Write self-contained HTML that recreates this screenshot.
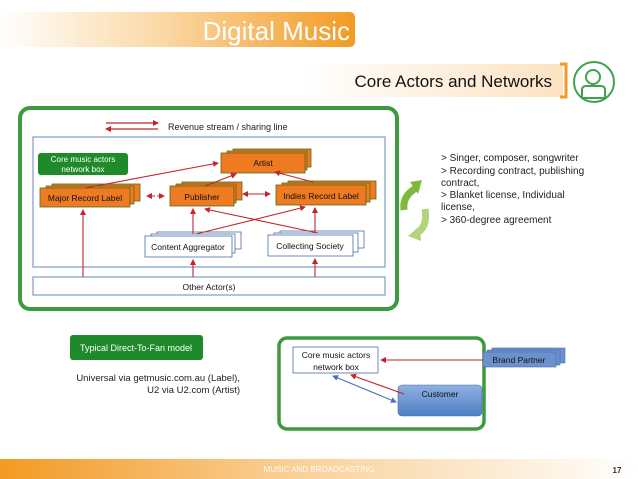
<!DOCTYPE html>
<html><head><meta charset="utf-8"><style>
html,body{margin:0;padding:0;background:#fff;}
svg{display:block;font-family:"Liberation Sans",sans-serif;}
</style></head><body>
<svg width="638" height="479" viewBox="0 0 638 479" xmlns="http://www.w3.org/2000/svg">
<defs>
<linearGradient id="tg" x1="0" x2="1"><stop offset="0" stop-color="#fff"/><stop offset="0.45" stop-color="#fbd9a6"/><stop offset="1" stop-color="#f29b25"/></linearGradient>
<linearGradient id="cg" x1="0" x2="1"><stop offset="0" stop-color="#fff"/><stop offset="1" stop-color="#fce3c2"/></linearGradient>
<linearGradient id="fg" x1="0" x2="1"><stop offset="0" stop-color="#f39a23"/><stop offset="0.45" stop-color="#f9cf95"/><stop offset="1" stop-color="#fff"/></linearGradient>
<linearGradient id="bg" x1="0" x2="0" y1="0" y2="1"><stop offset="0" stop-color="#8fb0e0"/><stop offset="1" stop-color="#4f7fc4"/></linearGradient>
<marker id="ar" markerWidth="6" markerHeight="6" refX="5" refY="3" orient="auto" markerUnits="userSpaceOnUse"><path d="M0,0 L6,3 L0,6z" fill="#c0262c"/></marker>
<marker id="arb" markerWidth="6" markerHeight="6" refX="5" refY="3" orient="auto-start-reverse" markerUnits="userSpaceOnUse"><path d="M0,0 L6,3 L0,6z" fill="#c0262c"/></marker>
<marker id="ab" markerWidth="6" markerHeight="6" refX="5" refY="3" orient="auto-start-reverse" markerUnits="userSpaceOnUse"><path d="M0,0 L6,3 L0,6z" fill="#4a6fc4"/></marker>
</defs>

<!-- title -->
<path d="M0,12 H349 Q355,12 355,18 V41 Q355,47 349,47 H0z" fill="url(#tg)"/>
<text x="350" y="40" font-size="26" fill="#fff" text-anchor="end">Digital Music</text>
<path d="M300,64 H563 V97 H300z" fill="url(#cg)"/>
<path d="M560,64 H566 V97 H560" fill="none" stroke="#f29b25" stroke-width="3"/>
<text x="552" y="87" font-size="17" fill="#111" text-anchor="end">Core Actors and Networks</text>
<g fill="none" stroke="#3fa34d" stroke-width="2">
<circle cx="594" cy="82" r="20"/><circle cx="593" cy="77" r="7"/>
<path d="M582,98 V90 Q582,86 586,86 H601 Q605,86 605,90 V98z"/>
</g>

<!-- big green box -->
<rect x="20" y="108" width="377" height="201" rx="10" fill="none" stroke="#3e9a3e" stroke-width="4"/>
<line x1="106" y1="123" x2="158" y2="123" stroke="#c0262c" stroke-width="1.3" marker-end="url(#ar)"/>
<line x1="106" y1="129" x2="158" y2="129" stroke="#c0262c" stroke-width="1.3" marker-start="url(#arb)"/>
<text x="168" y="130" font-size="9" fill="#222">Revenue stream / sharing line</text>

<rect x="33" y="137" width="352" height="130" fill="#fff" stroke="#7f9bc9" stroke-width="1.2"/>
<rect x="33" y="277" width="352" height="18" fill="#fff" stroke="#7f9bc9" stroke-width="1.2"/>
<text x="209" y="290" font-size="8.5" text-anchor="middle" fill="#111">Other Actor(s)</text>

<rect x="38" y="153" width="90" height="22" rx="3" fill="#1f8a2a"/>
<text x="83" y="162" font-size="8" fill="#fff" text-anchor="middle">Core music actors</text>
<text x="83" y="172" font-size="8" fill="#fff" text-anchor="middle">network box</text>

<g stroke="#5a6a1a" stroke-width="0.8" fill="#ee7a22">
<rect x="233" y="149" width="78" height="18"/><rect x="227" y="151" width="80" height="19"/><rect x="221" y="153" width="84" height="20"/>
<rect x="52" y="184" width="88" height="17"/><rect x="46" y="186" width="88" height="18"/><rect x="40" y="188" width="90" height="19"/>
<rect x="182" y="182" width="60" height="18"/><rect x="176" y="184" width="60" height="19"/><rect x="170" y="186" width="64" height="20"/>
<rect x="288" y="181" width="88" height="18"/><rect x="282" y="183" width="88" height="19"/><rect x="276" y="185" width="90" height="20"/>
</g>
<text x="263" y="166" font-size="8.5" text-anchor="middle" fill="#111">Artist</text>
<text x="85" y="201" font-size="8.5" text-anchor="middle" fill="#111">Major Record Label</text>
<text x="202" y="200" font-size="8.5" text-anchor="middle" fill="#111">Publisher</text>
<text x="321" y="199" font-size="8.5" text-anchor="middle" fill="#111">Indies Record Label</text>

<g stroke="#4a6fa8" stroke-width="0.8" fill="#fff">
<rect x="157" y="232" width="84" height="17"/><rect x="151" y="234" width="84" height="19"/><rect x="145" y="236" width="87" height="21"/>
<rect x="280" y="231" width="84" height="17"/><rect x="274" y="233" width="84" height="19"/><rect x="268" y="235" width="85" height="21"/>
</g>
<text x="188" y="250" font-size="8.5" text-anchor="middle" fill="#111">Content Aggregator</text>
<text x="310" y="249" font-size="8.5" text-anchor="middle" fill="#111">Collecting Society</text>

<g stroke="#c0262c" stroke-width="1.1" fill="none" marker-end="url(#ar)">
<line x1="85" y1="188" x2="218" y2="163"/>
<line x1="205" y1="186" x2="236" y2="174"/>
<line x1="313" y1="182" x2="275" y2="172"/>
<line x1="193" y1="234" x2="193" y2="209"/>
<line x1="318" y1="233" x2="205" y2="209"/>
<line x1="196" y1="234" x2="305" y2="207"/>
<line x1="315" y1="233" x2="315" y2="208"/>
<line x1="83" y1="277" x2="83" y2="210"/>
<line x1="193" y1="277" x2="193" y2="260"/>
<line x1="315" y1="277" x2="315" y2="259"/>
</g>
<line x1="147" y1="196" x2="164" y2="196" stroke="#c0262c" stroke-width="1.1" stroke-dasharray="3,2" marker-end="url(#ar)" marker-start="url(#arb)"/>
<line x1="243" y1="194" x2="270" y2="194" stroke="#c0262c" stroke-width="1.1" marker-end="url(#ar)" marker-start="url(#arb)"/>

<!-- cycle arrows -->
<path d="M418,187 Q402,195 404,210" stroke="#7fb83a" stroke-width="7" fill="none"/>
<path d="M410,182 L422,180 L418,194z" fill="#7fb83a"/>
<path d="M425,209 Q428,228 416,233" stroke="#b2d47d" stroke-width="7" fill="none"/>
<path d="M420,226 L408,236 L421,241z" fill="#b2d47d"/>

<g font-size="10" fill="#222">
<text x="441" y="161">&gt; Singer, composer, songwriter</text>
<text x="441" y="174">&gt; Recording contract, publishing</text>
<text x="441" y="186">contract,</text>
<text x="441" y="198">&gt; Blanket license, Individual</text>
<text x="441" y="210">license,</text>
<text x="441" y="223">&gt; 360-degree agreement</text>
</g>

<!-- bottom -->
<rect x="70" y="335" width="133" height="25" rx="3" fill="#1f8a2a"/>
<text x="136" y="351" font-size="9" fill="#fff" text-anchor="middle">Typical Direct-To-Fan model</text>
<text x="240" y="381" font-size="9.5" fill="#222" text-anchor="end">Universal via getmusic.com.au (Label),</text>
<text x="240" y="393" font-size="9.5" fill="#222" text-anchor="end">U2 via U2.com (Artist)</text>

<rect x="279" y="338" width="205" height="91" rx="8" fill="none" stroke="#3e9a3e" stroke-width="3.5"/>
<rect x="293" y="347" width="85" height="26" fill="#fff" stroke="#4a6fa8" stroke-width="0.8"/>
<text x="336" y="358" font-size="8.5" text-anchor="middle" fill="#111">Core music actors</text>
<text x="336" y="370" font-size="8.5" text-anchor="middle" fill="#111">network box</text>
<g stroke="#4a6fa8" stroke-width="0.6" fill="#6d91cc"><rect x="492" y="348" width="73" height="15"/><rect x="487" y="350" width="73" height="15"/><rect x="483" y="352" width="73" height="15"/></g>
<text x="519" y="363" font-size="8.5" text-anchor="middle" fill="#111">Brand Partner</text>
<rect x="398" y="385" width="84" height="31" rx="4" fill="url(#bg)" stroke="#4a6fa8" stroke-width="0.6"/>
<text x="440" y="397" font-size="8.5" text-anchor="middle" fill="#111">Customer</text>
<line x1="483" y1="360" x2="381" y2="360" stroke="#c0262c" stroke-width="1.1" marker-end="url(#ar)"/>
<line x1="404" y1="394" x2="351" y2="375" stroke="#c0262c" stroke-width="1.1" marker-end="url(#ar)"/>
<line x1="333" y1="376" x2="396" y2="402" stroke="#4a6fc4" stroke-width="1.1" marker-end="url(#ab)" marker-start="url(#ab)"/>

<!-- footer -->
<rect x="0" y="459" width="638" height="20" fill="url(#fg)"/>
<text x="319" y="472" font-size="8" fill="#fff" text-anchor="middle" opacity="0.9">MUSIC AND BROADCASTING</text>
<text x="617" y="473" font-size="8" fill="#333" text-anchor="middle" font-weight="bold">17</text>
</svg>
</body></html>
